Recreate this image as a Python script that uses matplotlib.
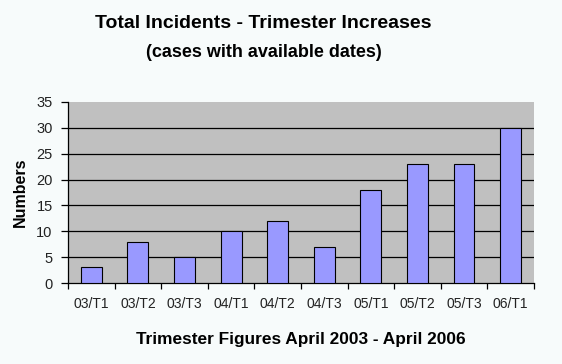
import numpy as np
import matplotlib.pyplot as plt

plt.rcParams['font.family'] = ['Liberation Sans', 'DejaVu Sans']

trimesters = ["03/T1", "03/T2", "03/T3", "04/T1", "04/T2",
              "04/T3", "05/T1", "05/T2", "05/T3", "06/T1"]
incidents = [3, 8, 5, 10, 12, 7, 18, 23, 23, 30]
y_ticks = [0, 5, 10, 15, 20, 25, 30, 35]


def main():
    fig = plt.figure(figsize=(5.62, 3.64), dpi=100, facecolor="#f7fbfb")
    ax = fig.add_axes([0.121, 0.2225, 0.829, 0.4973])
    ax.set_facecolor("#c0c0c0")

    x = np.arange(len(trimesters))
    ax.bar(x, incidents, width=0.45, color="#9999ff",
           edgecolor="black", linewidth=0.8, zorder=3)

    ax.set_xlim(-0.5, len(trimesters) - 0.5)
    ax.set_ylim(0, 35)
    ax.set_yticks(y_ticks)
    for v in y_ticks[1:-1]:
        ax.axhline(v, color="black", linewidth=0.9, zorder=1)

    ax.set_xticks(x)
    ax.set_xticklabels(trimesters, fontsize=10)
    ax.set_xticks(np.arange(len(trimesters) + 1) - 0.5, minor=True)
    ax.tick_params(axis="x", which="major", length=0, pad=10, colors="#222222")
    ax.tick_params(axis="x", which="minor", length=4, width=0.9, direction="out")
    ax.tick_params(axis="y", length=5, width=0.9, pad=6, labelsize=10.5,
                   colors="black")
    for lab in ax.get_yticklabels():
        lab.set_color("#222222")

    for side in ["top", "right"]:
        ax.spines[side].set_visible(False)
    ax.spines["left"].set_linewidth(0.9)
    ax.spines["bottom"].set_linewidth(0.9)

    ax.set_ylabel("Numbers", fontsize=11.5, fontweight="bold", labelpad=6)
    ax.set_xlabel("Trimester Figures April 2003 - April 2006", fontsize=12.4,
                  fontweight="bold", labelpad=15)

    fig.text(0.469, 0.935, "Total Incidents - Trimester Increases",
             ha="center", va="center", fontsize=14, fontweight="bold")
    fig.text(0.469, 0.855, "(cases with available dates)",
             ha="center", va="center", fontsize=13, fontweight="bold")

    fig.savefig("out.png", dpi=100, facecolor=fig.get_facecolor())


if __name__ == "__main__":
    main()
